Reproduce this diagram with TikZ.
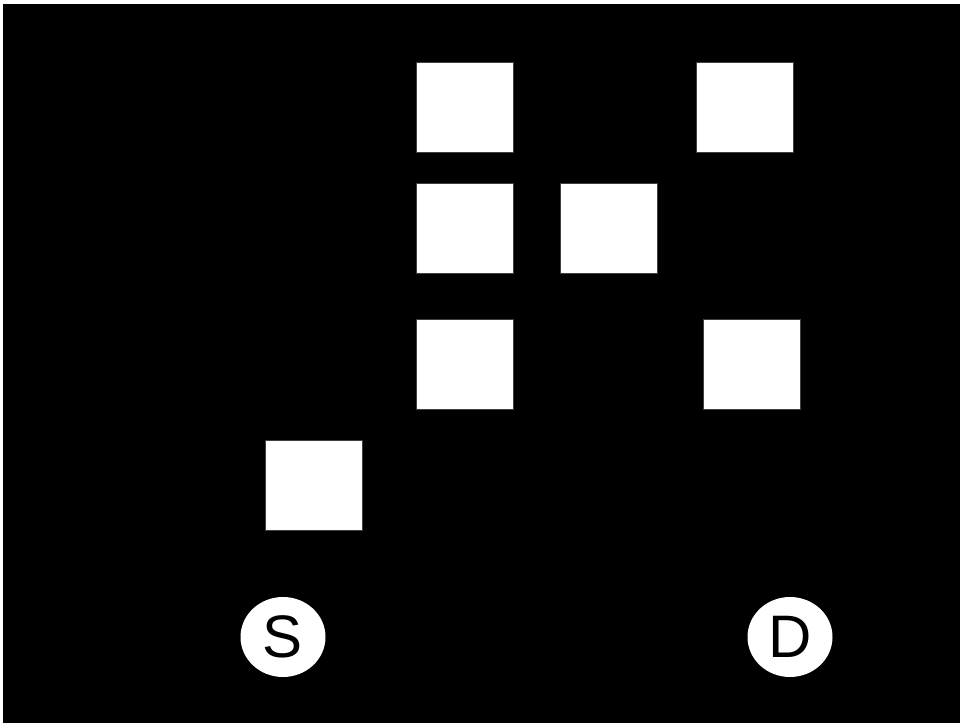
\documentclass[tikz,border=0pt]{standalone}
\usepackage{fontspec}
\setmainfont{Liberation Sans}
\usetikzlibrary{shapes.geometric}
\begin{document}
\begin{tikzpicture}[x=1pt,y=-1pt,
  cell/.style={draw=black!75,line width=0.8pt,fill=white,minimum width=97pt,minimum height=90pt,inner sep=0pt,outer sep=0pt},
  term/.style={ellipse,fill=white,minimum width=85pt,minimum height=80pt,inner sep=0pt,font=\fontsize{60}{60}\selectfont,text=black}]
\useasboundingbox (0,0) rectangle (960,725);
\fill[white] (0,0) rectangle (960,725);
\fill[black] (3,4) rectangle (960,723);
% grid of cells (centres)
\node[cell] (a) at (464.5,107) {};
\node[cell] (b) at (744.5,107) {};
\node[cell] (c) at (464.5,228) {};
\node[cell] (d) at (608.5,228) {};
\node[cell] (e) at (464.5,364) {};
\node[cell] (f) at (751.5,364) {};
\node[cell] (g) at (313.5,485) {};
% source and destination
\node[term] (s) at (283,637) {S};
\node[term] (t) at (790,637) {D};
\end{tikzpicture}
\end{document}
